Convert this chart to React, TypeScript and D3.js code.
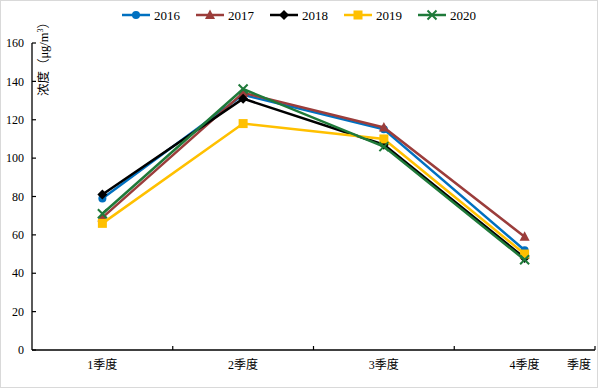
import * as d3 from "d3";

const quarters = ["1季度", "2季度", "3季度", "4季度"];
const years = ["2016", "2017", "2018", "2019", "2020"];
const v2016 = [79, 133, 115, 52];
const v2017 = [69, 134, 116, 59];
const v2018 = [81, 131, 107, 48];
const v2019 = [66, 118, 110, 50];
const v2020 = [71, 136, 106, 47];
const yTicks = [0, 20, 40, 60, 80, 100, 120, 140, 160];

const seriesValues = [v2016, v2017, v2018, v2019, v2020];
const colors = ["#0070C0", "#9B3D3B", "#000000", "#FFC000", "#1F7A3A"];
const shapes = ["circle", "triangle", "diamond", "square", "x"];

const W = 598;
const H = 388;
const left = 32;
const right = 595;
const top = 43;
const bottom = 350;
const serif = "'Liberation Serif', 'Times New Roman', 'Noto Sans CJK SC', serif";

const x = d3.scaleBand<string>().domain(quarters).range([left, right]).padding(0);
const y = d3.scaleLinear().domain([0, 160]).range([bottom, top]);
const line = d3
  .line<number>()
  .x((_, i) => x(quarters[i])! + x.bandwidth() / 2)
  .y((d) => y(d));

function Marker({ shape, color, cx, cy }: { shape: string; color: string; cx: number; cy: number }) {
  if (shape === "circle") return <circle cx={cx} cy={cy} r={4} fill={color} />;
  if (shape === "square") return <rect x={cx - 4.5} y={cy - 4.5} width={9} height={9} fill={color} />;
  if (shape === "diamond")
    return <path d={`M${cx},${cy - 5}L${cx + 5},${cy}L${cx},${cy + 5}L${cx - 5},${cy}Z`} fill={color} />;
  if (shape === "triangle")
    return <path d={`M${cx},${cy - 5.5}L${cx + 5},${cy + 4}L${cx - 5},${cy + 4}Z`} fill={color} />;
  return (
    <path
      d={`M${cx - 4.5},${cy - 4.5}L${cx + 4.5},${cy + 4.5}M${cx + 4.5},${cy - 4.5}L${cx - 4.5},${cy + 4.5}`}
      stroke={color}
      strokeWidth={2}
      fill="none"
    />
  );
}

export default function App() {
  const boundaries = [...quarters.slice(1).map((q) => x(q)!), right];
  return (
    <div style={{ position: "fixed", left: 0, top: 0 }}>
      <svg width={W} height={H} style={{ display: "block", background: "#fff" }}>
        <rect x={0.5} y={0.5} width={W - 1} height={H - 1} fill="#fff" stroke="#D9D9D9" />

        {/* y axis */}
        <line x1={left} x2={left} y1={top} y2={bottom} stroke="#000" strokeWidth={1.3} />
        {yTicks.map((t) => (
          <g key={t}>
            <line x1={left} x2={left + 4} y1={y(t)} y2={y(t)} stroke="#000" strokeWidth={1.2} />
            <text x={left - 8} y={y(t)} dy="0.35em" textAnchor="end" fontFamily={serif} fontSize={12}>
              {t}
            </text>
          </g>
        ))}

        {/* x axis */}
        <line x1={left} x2={right} y1={bottom} y2={bottom} stroke="#000" strokeWidth={1.3} />
        {boundaries.map((bx, i) => (
          <line key={i} x1={bx} x2={bx} y1={bottom} y2={bottom - 4} stroke="#000" strokeWidth={1.2} />
        ))}
        {quarters.map((q) => (
          <text
            key={q}
            x={x(q)! + x.bandwidth() / 2}
            y={365}
            dy="0.35em"
            textAnchor="middle"
            fontFamily={serif}
            fontSize={12}
          >
            {q}
          </text>
        ))}
        <text x={579} y={365} dy="0.35em" textAnchor="middle" fontFamily={serif} fontSize={12}>
          季度
        </text>

        {/* y title */}
        <text
          transform={`translate(44,56) rotate(-90)`}
          textAnchor="middle"
          dy="0.35em"
          fontFamily={serif}
          fontSize={12.5}
        >
          浓度（μg/m<tspan dy="-5" fontSize={8}>3</tspan>
          <tspan dy="5">）</tspan>
        </text>

        {/* series */}
        {seriesValues.map((vals, si) => (
          <g key={years[si]}>
            <path d={line(vals)!} fill="none" stroke={colors[si]} strokeWidth={2.5} />
            {vals.map((v, i) => (
              <Marker
                key={i}
                shape={shapes[si]}
                color={colors[si]}
                cx={x(quarters[i])! + x.bandwidth() / 2}
                cy={y(v)}
              />
            ))}
          </g>
        ))}

        {/* legend */}
        {years.map((yr, i) => {
          const lx = 122 + i * 74;
          return (
            <g key={yr}>
              <line x1={lx} x2={lx + 28} y1={15} y2={15} stroke={colors[i]} strokeWidth={2.5} />
              <Marker shape={shapes[i]} color={colors[i]} cx={lx + 14} cy={15} />
              <text x={lx + 32} y={15} dy="0.35em" fontFamily={serif} fontSize={13}>
                {yr}
              </text>
            </g>
          );
        })}
      </svg>
    </div>
  );
}
